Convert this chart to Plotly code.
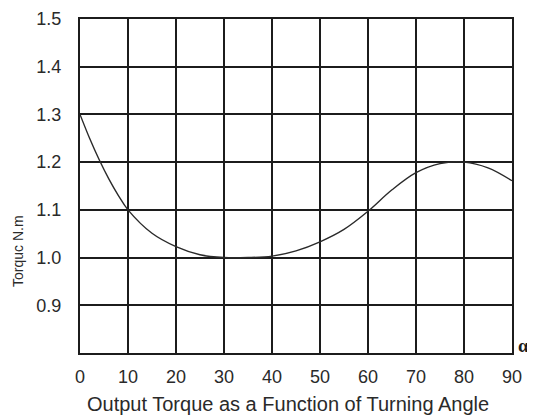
import plotly.graph_objects as go

angle = [0, 2, 4, 6, 8, 10, 15, 20, 25, 30, 35, 40, 45, 50, 55, 60, 65, 70, 75, 80, 85, 90]
torque = [1.30, 1.25, 1.205, 1.165, 1.13, 1.10, 1.051, 1.023, 1.006, 1.0, 1.0, 1.003,
          1.014, 1.033, 1.059, 1.097, 1.142, 1.178, 1.197, 1.20, 1.188, 1.161]

x_ticks = [0, 10, 20, 30, 40, 50, 60, 70, 80, 90]
y_ticks = [0.9, 1.0, 1.1, 1.2, 1.3, 1.4, 1.5]
y_ticktext = ["0.9", "1.0", "1.1", "1.2", "1.3", "1.4", "1.5"]

FONT = "Liberation Sans, Arial, sans-serif"
INK = "#1c1c1c"
TXT = "#2a2a2a"

fig = go.Figure()
fig.add_trace(go.Scatter(
    x=angle, y=torque, mode="lines",
    line=dict(color="#2a2a2a", width=1.4, shape="spline", smoothing=1.0),
    hoverinfo="skip", showlegend=False,
))

fig.update_layout(
    width=527, height=409,
    margin=dict(l=72, r=23, t=11, b=64),
    paper_bgcolor="white", plot_bgcolor="white",
    font=dict(family=FONT, color=TXT),
    xaxis=dict(
        range=[0, 90], tickvals=x_ticks, ticktext=[str(v) for v in x_ticks],
        showgrid=True, gridcolor=INK, gridwidth=2,
        showline=True, linecolor=INK, linewidth=2, mirror=True,
        zeroline=False, ticks="", ticklabelstandoff=6, automargin=False,
        tickfont=dict(size=18, family=FONT, color=TXT),
    ),
    yaxis=dict(
        range=[0.8, 1.5], tickvals=y_ticks, ticktext=y_ticktext,
        showgrid=True, gridcolor=INK, gridwidth=2,
        showline=True, linecolor=INK, linewidth=2, mirror=True,
        zeroline=False, ticks="", ticklabelstandoff=13, automargin=False,
        tickfont=dict(size=18, family=FONT, color=TXT),
    ),
    annotations=[
        dict(text="Output Torque as a Function of Turning Angle",
             xref="paper", yref="paper",
             x=(288 - 80) / 432, y=(353 - 404) / 334, showarrow=False,
             font=dict(size=20, family=FONT, color=TXT),
             xanchor="center", yanchor="middle"),
        dict(text="Torquc N.m", textangle=-90, xref="paper", yref="paper",
             x=(18 - 80) / 432, y=(353 - 251) / 334, showarrow=False,
             font=dict(size=14, family=FONT, color=TXT),
             xanchor="center", yanchor="middle"),
        dict(text="<b>α</b>", xref="paper", yref="paper",
             x=(523 - 80) / 432, y=(353 - 345) / 334, showarrow=False,
             font=dict(size=19, family="Liberation Serif, serif", color="#1c1c1c"),
             xanchor="center", yanchor="middle"),
    ],
)

fig.write_html("out.html")
